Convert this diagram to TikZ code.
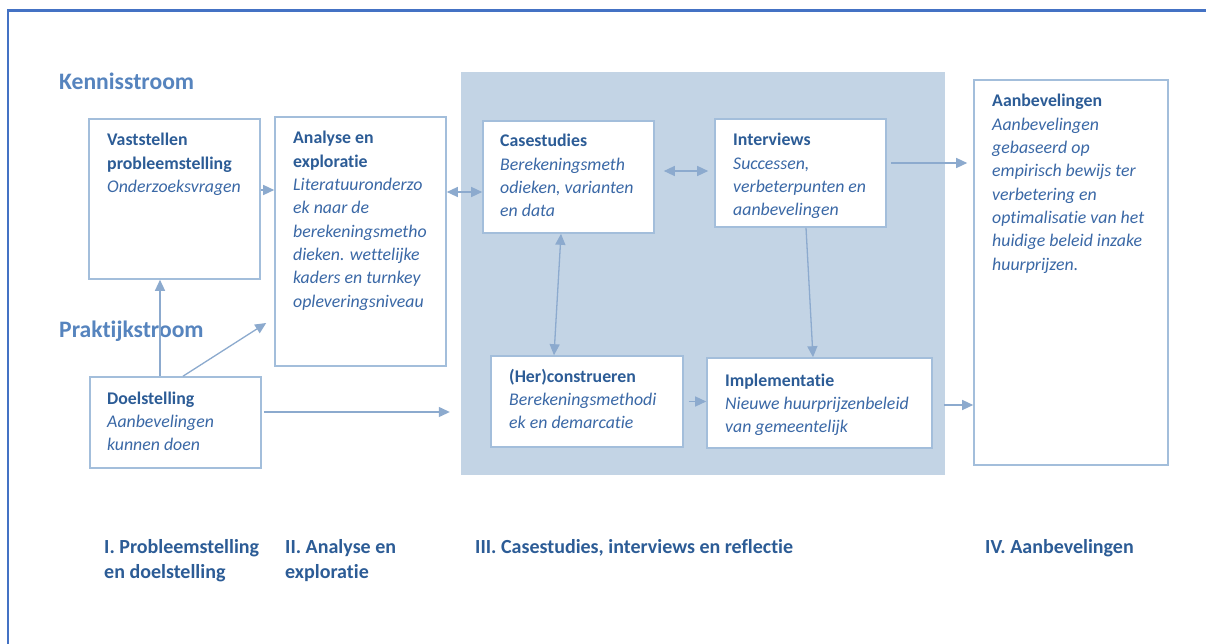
\documentclass[tikz,border=0pt]{standalone}
\usepackage{fontspec}
\setmainfont{Carlito}[Ligatures={CommonOff}]
\usetikzlibrary{arrows.meta}
\definecolor{frameblue}{RGB}{68,114,196}
\definecolor{titleblue}{RGB}{86,132,190}
\definecolor{headblue}{RGB}{44,92,150}
\definecolor{bodyblue}{RGB}{58,104,166}
\definecolor{boxline}{RGB}{163,190,219}
\definecolor{arrowblue}{RGB}{140,170,206}
\definecolor{shadeblue}{RGB}{195,212,229}
\newcommand{\hd}[1]{{\bfseries\color{headblue}#1}}
\newcommand{\bd}[1]{{\itshape\color{bodyblue}#1}}
% text block whose reference point is the first baseline
\newcommand{\textlines}[1]{\parbox[t]{300pt}{\raggedright\leavevmode #1}}
\begin{document}
\begin{tikzpicture}[x=1pt,y=-1pt,
  stepbox/.style={draw=boxline,line width=1.6pt,fill=white,rectangle,inner sep=0pt},
  zone/.style={fill=shadeblue,draw=none,rectangle,inner sep=0pt},
  boxtext/.style={anchor=base west,inner sep=0pt,font=\fontsize{17.8}{23.3}\selectfont},
  streamlabel/.style={anchor=base west,inner sep=0pt,font=\fontsize{23.6}{28}\selectfont\bfseries,text=titleblue},
  phaselabel/.style={anchor=base west,inner sep=0pt,font=\fontsize{20}{25}\selectfont\bfseries,text=headblue},
  arr/.style={draw=arrowblue,line width=1.3pt,-{Triangle[length=11pt,width=10pt]}},
  darr/.style={draw=arrowblue,line width=1.3pt,{Triangle[length=11pt,width=10pt]}-{Triangle[length=11pt,width=10pt]}}]

\useasboundingbox (0,0) rectangle (1206,644);
\fill[white] (0,0) rectangle (1206,644);

% page frame (top and left edges)
\draw[frameblue,line width=2.4pt] (1206,10.5) -- (8,10.5) -- (8,644);

% shaded zone for phase III
\node[zone,minimum width=484pt,minimum height=403pt] (zone) at (703,273.5) {};

% boxes
\node[stepbox,minimum width=171pt,minimum height=160pt] (vb) at (174.5,199) {};
\node[stepbox,minimum width=171pt,minimum height=249pt] (an) at (360.5,241.5) {};
\node[stepbox,minimum width=171pt,minimum height=91pt]  (dl) at (175.5,422.5) {};
\node[stepbox,minimum width=171pt,minimum height=112pt] (cs) at (568.5,177) {};
\node[stepbox,minimum width=171pt,minimum height=108pt] (iv) at (800.5,173) {};
\node[stepbox,minimum width=192pt,minimum height=91pt]  (hc) at (587,401.5) {};
\node[stepbox,minimum width=225pt,minimum height=90pt]  (im) at (819.5,403) {};
\node[stepbox,minimum width=194pt,minimum height=385pt] (ab) at (1071,272.5) {};

% box texts
\node[boxtext] (tvb) at (107,146) {\textlines{\hd{Vaststellen}\\\hd{probleemstelling}\\\bd{Onderzoeksvragen}}};
\node[boxtext] (tan) at (293,144) {\textlines{\hd{Analyse en}\\\hd{exploratie}\\\bd{Literatuuronderzo}\\\bd{ek naar de}\\\bd{berekeningsmetho}\\\bd{dieken. wettelijke}\\\bd{kaders en turnkey}\\\bd{opleveringsniveau}}};
\node[boxtext] (tdl) at (107,404) {\textlines{\hd{Doelstelling}\\\bd{Aanbevelingen}\\\bd{kunnen doen}}};
\node[boxtext] (tcs) at (500,147) {\textlines{\hd{Casestudies}\\\bd{Berekeningsmeth}\\\bd{odieken, varianten}\\\bd{en data}}};
\node[boxtext] (tiv) at (733,146) {\textlines{\hd{Interviews}\\\bd{Successen,}\\\bd{verbeterpunten en}\\\bd{aanbevelingen}}};
\node[boxtext] (thc) at (509,382) {\textlines{\hd{(Her)construeren}\\\bd{Berekeningsmethodi}\\\bd{ek en demarcatie}}};
\node[boxtext] (tim) at (725,386) {\textlines{\hd{Implementatie}\\\bd{Nieuwe huurprijzenbeleid}\\\bd{van gemeentelijk}}};
\node[boxtext] (tab) at (992,107) {\textlines{\hd{Aanbevelingen}\\\bd{Aanbevelingen}\\\bd{gebaseerd op}\\\bd{empirisch bewijs ter}\\\bd{verbetering en}\\\bd{optimalisatie van het}\\\bd{huidige beleid inzake}\\\bd{huurprijzen.}}};

% stream labels
\node[streamlabel] (ks) at (59,90) {Kennisstroom};
\node[streamlabel] (ps) at (59,337) {Praktijkstroom};

% phase labels
\node[phaselabel] (p1) at (104,553) {\textlines{I. Probleemstelling\\en doelstelling}};
\node[phaselabel] (p2) at (285,553) {\textlines{II. Analyse en\\exploratie}};
\node[phaselabel] (p3) at (475,553) {III. Casestudies, interviews en reflectie};
\node[phaselabel] (p4) at (985,553) {IV. Aanbevelingen};

% connector anchors
\coordinate (c1) at ([yshift=9pt]vb.east);
\coordinate (c2) at ([xshift=-15.5pt]dl.north);
\coordinate (c3a) at ([xshift=7.5pt]dl.north);
\coordinate (c3b) at ([xshift=-8pt,yshift=-81.5pt]an.west);
\coordinate (c4a) at ([xshift=2pt,yshift=10.5pt]dl.east);
\coordinate (c4b) at ([xshift=-11pt]zone.west);
\coordinate (c5) at ([yshift=-15pt]cs.west);
\coordinate (c6a) at ([xshift=9pt,yshift=6pt]cs.east);
\coordinate (c6b) at ([xshift=-6pt]iv.west);
\coordinate (c7a) at ([xshift=-7.5pt]cs.south);
\coordinate (c7b) at ([xshift=-33pt]hc.north);
\coordinate (c8a) at ([xshift=5.5pt]iv.south);
\coordinate (c8b) at ([xshift=-6.5pt]im.north);
\coordinate (c9) at ([xshift=5pt]hc.east);
\coordinate (c10a) at ([xshift=4pt,yshift=10pt]iv.east);
\coordinate (c10b) at ([xshift=-6pt]ab.west);
\coordinate (c11) at ([xshift=11pt,yshift=-2pt]im.east);

% connectors
\draw[arr] (c1) -- (c1 -| an.west);
\draw[arr] (c2) -- (c2 |- vb.south);
\draw[arr] (c3a) -- (c3b);
\draw[arr] (c4a) -- (c4a -| c4b);
\draw[darr] (c5 -| an.east) -- (c5);
\draw[darr] (c6a) -- (c6a -| c6b);
\draw[darr] (c7a) -- (c7b);
\draw[arr] (c8a) -- (c8b);
\draw[arr] (c9) -- (c9 -| im.west);
\draw[arr] (c10a) -- (c10a -| c10b);
\draw[arr] (c11) -- (c11 -| ab.west);
\end{tikzpicture}
\end{document}
